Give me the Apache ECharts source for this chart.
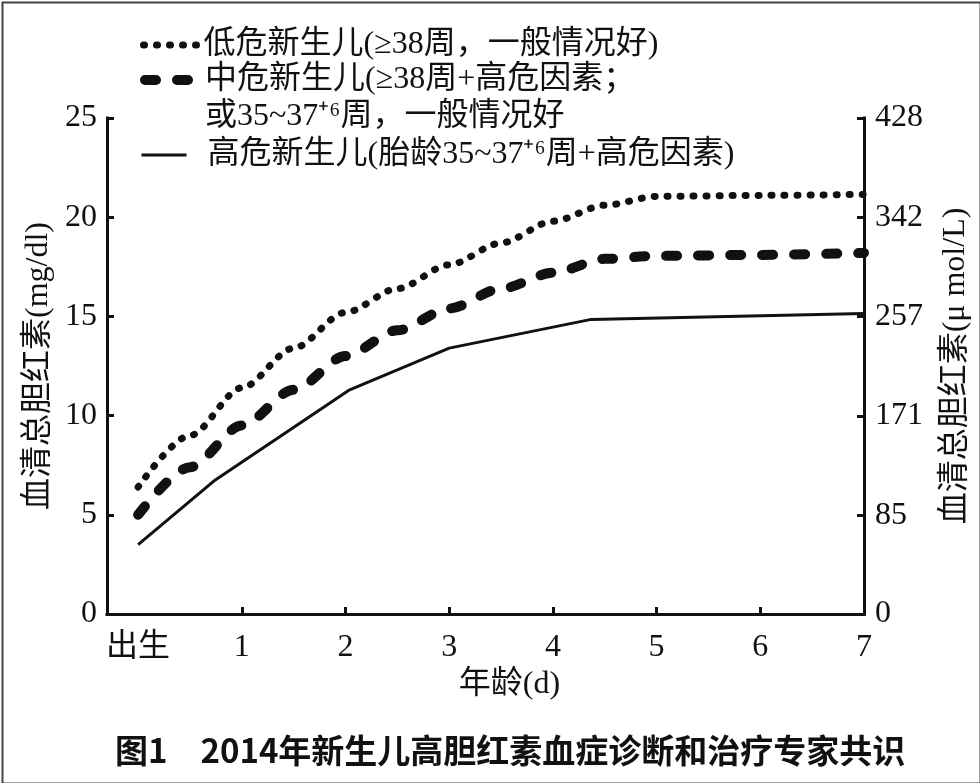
<!DOCTYPE html>
<html>
<head>
<meta charset="utf-8">
<script src="https://cdn.jsdelivr.net/npm/echarts@6/dist/echarts.min.js"></script>
<style>
html,body{margin:0;padding:0;background:#fff;}
#chart{width:980px;height:783px;}
</style>
</head>
<body>
<div id="chart"></div>
<script>
// ---- data ----
const xTickValues = [0, 1, 2, 3, 4, 5, 6, 7];
const xTickLabels = ['出生', '1', '2', '3', '4', '5', '6', '7'];
const leftTicks = [0, 5, 10, 15, 20, 25];
const rightTicks = [0, 85, 171, 257, 342, 428];

const lowRiskName = '低危新生儿(≥38周，一般情况好)';
const lowRiskX = [0, 0.5, 1, 1.5, 2, 2.5, 3, 3.5, 4, 4.5, 5, 6, 7];
const lowRiskY = [6.4, 9.0, 11.4, 13.4, 15.2, 16.4, 17.6, 18.7, 19.8, 20.6, 21.05, 21.1, 21.15];

const midRiskName = '中危新生儿(≥38周+高危因素；\n或35~37⁺⁶周，一般情况好';
const midRiskX = [0, 0.5, 1, 1.5, 2, 2.5, 3, 3.5, 4, 4.5, 5, 6, 7];
const midRiskY = [5.0, 7.4, 9.5, 11.3, 13.0, 14.3, 15.4, 16.4, 17.2, 17.9, 18.05, 18.1, 18.2];

const highRiskName = '高危新生儿(胎龄35~37⁺⁶周+高危因素)';
const highRiskX = [0, 0.73, 2.04, 3, 4.37, 7];
const highRiskY = [3.5, 6.7, 11.3, 13.4, 14.85, 15.15];

const caption = '图1\u30002014年新生儿高胆红素血症诊断和治疗专家共识';

// ---- build ----
const zip = (xs, ys) => xs.map((x, i) => [x, ys[i]]);
const FONT = '"Liberation Serif", "Noto Sans CJK SC", serif';
const INK = '#111';
const DOT = [1, 12];
const DASH = [11, 21];

const chart = echarts.init(document.getElementById('chart'), null, {renderer: 'canvas'});

const legendBase = {
  orient: 'vertical',
  left: 140,
  padding: 0,
  itemHeight: 14,
  itemWidth: 55,
  selectedMode: false,
  itemStyle: {opacity: 0},
  textStyle: {fontFamily: FONT, fontSize: 32, color: INK, lineHeight: 37}
};

const option = {
  animation: false,
  backgroundColor: '#fff',
  grid: {left: 107, right: 114, top: 118, bottom: 169},
  legend: [
    Object.assign({}, legendBase, {
      top: 26.5,
      data: [{name: lowRiskName, lineStyle: {width: 7, type: DOT, cap: 'round', color: INK}}]
    }),
    Object.assign({}, legendBase, {
      top: 24.5,
      formatter: name => '\n' + name,
      data: [{name: midRiskName, lineStyle: {width: 10, type: DASH, cap: 'round', color: INK}}]
    }),
    Object.assign({}, legendBase, {
      top: 136.5,
      itemWidth: 45,
      formatter: name => '  ' + name,
      data: [{name: highRiskName, lineStyle: {width: 3, type: 'solid', color: INK}}]
    })
  ],
  xAxis: {
    type: 'value',
    min: -0.3,
    max: 7,
    name: '年龄(d)',
    nameLocation: 'middle',
    nameGap: 54,
    nameTextStyle: {fontFamily: FONT, fontSize: 32, color: INK, padding: [0, 0, 0, 48]},
    axisLine: {show: true, onZero: false, lineStyle: {color: INK, width: 3, cap: 'square'}},
    axisTick: {show: true, inside: true, length: 7, lineStyle: {color: INK, width: 3}, customValues: xTickValues.slice(1)},
    axisLabel: {
      fontFamily: FONT, fontSize: 32, color: INK, margin: 18,
      customValues: xTickValues,
      formatter: v => xTickLabels[xTickValues.indexOf(Math.round(v))] || ''
    },
    splitLine: {show: false}
  },
  yAxis: [
    {
      type: 'value',
      position: 'left',
      min: leftTicks[0],
      max: leftTicks[leftTicks.length - 1],
      interval: 5,
      name: '血清总胆红素(mg/dl)',
      nameLocation: 'middle',
      nameGap: 47,
      nameRotate: 90,
      nameTextStyle: {fontFamily: FONT, fontSize: 32, color: INK},
      axisLine: {show: true, onZero: false, lineStyle: {color: INK, width: 3, cap: 'square'}},
      axisTick: {show: true, inside: true, length: 7, lineStyle: {color: INK, width: 3}},
      axisLabel: {fontFamily: FONT, fontSize: 32, color: INK, margin: 10},
      splitLine: {show: false}
    },
    {
      type: 'value',
      position: 'right',
      min: rightTicks[0],
      max: rightTicks[rightTicks.length - 1],
      name: '血清总胆红素(μ mol/L)',
      nameLocation: 'middle',
      nameGap: 76,
      nameRotate: 90,
      nameTextStyle: {fontFamily: FONT, fontSize: 32, color: INK},
      axisLine: {show: true, onZero: false, lineStyle: {color: INK, width: 3, cap: 'square'}},
      axisTick: {show: true, inside: true, length: 7, lineStyle: {color: INK, width: 3}, customValues: rightTicks},
      axisLabel: {fontFamily: FONT, fontSize: 32, color: INK, margin: 11, customValues: rightTicks},
      splitLine: {show: false}
    }
  ],
  series: [
    {
      name: lowRiskName, type: 'line', yAxisIndex: 0,
      data: zip(lowRiskX, lowRiskY),
      symbol: 'none', smooth: 0.3, smoothMonotone: 'x',
      lineStyle: {color: INK, width: 7, type: DOT, cap: 'round'}
    },
    {
      name: midRiskName, type: 'line', yAxisIndex: 0,
      data: zip(midRiskX, midRiskY),
      symbol: 'none', smooth: 0.3, smoothMonotone: 'x',
      lineStyle: {color: INK, width: 10, type: DASH, cap: 'round'}
    },
    {
      name: highRiskName, type: 'line', yAxisIndex: 0,
      data: zip(highRiskX, highRiskY),
      symbol: 'none', smooth: false,
      lineStyle: {color: INK, width: 3, type: 'solid'}
    }
  ],
  graphic: [
    {
      type: 'rect', left: 0, top: 0, silent: true,
      shape: {x: 1, y: 1, width: 978, height: 781},
      style: {fill: 'none', stroke: '#444', lineWidth: 2}
    },
    {
      type: 'text', left: 115, top: 734, silent: true,
      style: {text: caption, fontFamily: '"Noto Sans CJK SC", sans-serif', fontWeight: 'bold', fontSize: 33, fill: INK}
    }
  ]
};

chart.setOption(option);
</script>
</body>
</html>
